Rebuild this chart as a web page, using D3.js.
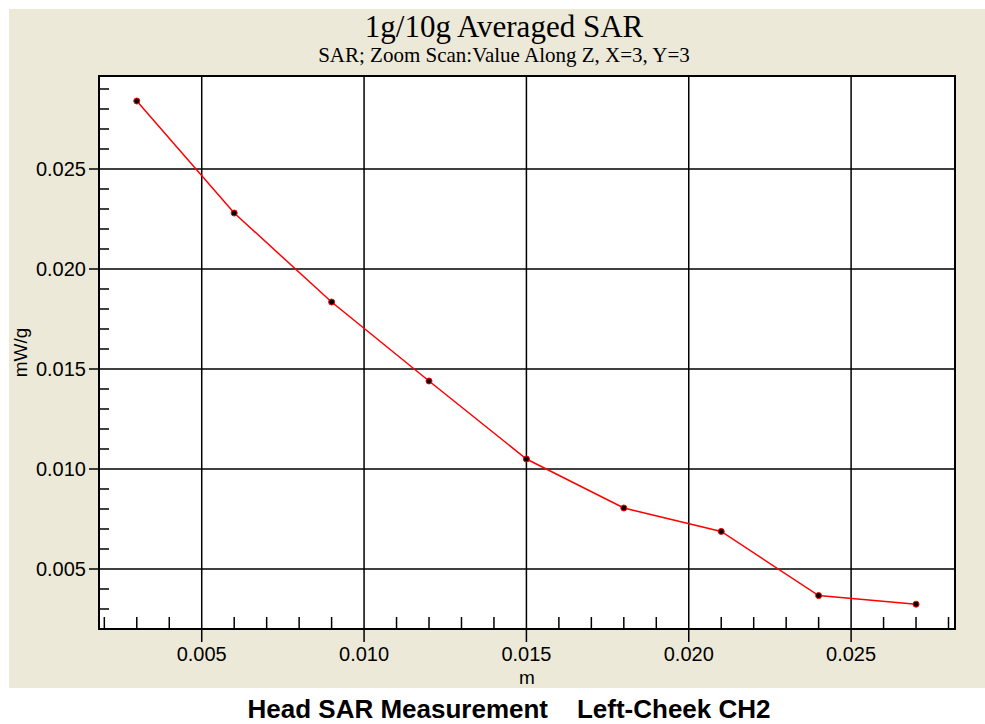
<!DOCTYPE html>
<html><head><meta charset="utf-8">
<script src="https://cdn.jsdelivr.net/npm/d3@7"></script>
<style>body{margin:0;background:#fff;}svg{display:block;}</style>
</head><body>
<svg id="c" width="985" height="724"></svg>
<script>
const xValues = [0.003, 0.006, 0.009, 0.012, 0.015, 0.018, 0.021, 0.024, 0.027];
const sarValues = [0.0284, 0.0228, 0.01835, 0.0144, 0.0105, 0.00805, 0.00688, 0.00367, 0.00324];
const xMajorTicks = [0.005, 0.010, 0.015, 0.020, 0.025];
const yMajorTicks = [0.005, 0.010, 0.015, 0.020, 0.025];
const xMinorTicks = [0.002,0.003,0.004,0.006,0.007,0.008,0.009,0.011,0.012,0.013,0.014,0.016,0.017,0.018,0.019,0.021,0.022,0.023,0.024,0.026,0.027,0.028];
const yMinorTicks = [0.003,0.004,0.006,0.007,0.008,0.009,0.011,0.012,0.013,0.014,0.016,0.017,0.018,0.019,0.021,0.022,0.023,0.024,0.026,0.027,0.028,0.029];
const titleText = "1g/10g Averaged SAR";
const subtitleText = "SAR; Zoom Scan:Value Along Z, X=3, Y=3";
const xLabel = "m", yLabel = "mW/g";
const captionText = "Head SAR Measurement\u00a0\u00a0\u00a0\u00a0Left-Cheek CH2";

const svg = d3.select("#c");
const L = 99, R = 955, T = 76, B = 629;
const x = d3.scaleLinear().domain([0.001836, 0.0282]).range([L, R]);
const y = d3.scaleLinear().domain([0.002, 0.02965]).range([B, T]);
const sans = "Arial, 'Liberation Sans', sans-serif";
const serif = "'Times New Roman', 'Liberation Serif', serif";

svg.append("rect").attr("x", 9).attr("y", 9).attr("width", 976).attr("height", 679).attr("fill", "#ECE9D8");
svg.append("rect").attr("x", L).attr("y", T).attr("width", R - L).attr("height", B - T).attr("fill", "#fff");

// grid
const g = svg.append("g");
g.selectAll(".gx").data(xMajorTicks).join("line")
  .attr("x1", d => x(d)).attr("x2", d => x(d)).attr("y1", T).attr("y2", B + 13)
  .attr("stroke", "#000").attr("stroke-width", 1.5);
g.selectAll(".gy").data(yMajorTicks).join("line")
  .attr("y1", d => y(d)).attr("y2", d => y(d)).attr("x1", L - 10).attr("x2", R)
  .attr("stroke", "#000").attr("stroke-width", 1.5);
// minor ticks inward
g.selectAll(".mx").data(xMinorTicks).join("line")
  .attr("x1", d => x(d)).attr("x2", d => x(d)).attr("y1", B).attr("y2", B - 12)
  .attr("stroke", "#000").attr("stroke-width", 1.5);
g.selectAll(".my").data(yMinorTicks).join("line")
  .attr("y1", d => y(d)).attr("y2", d => y(d)).attr("x1", L).attr("x2", L + 10)
  .attr("stroke", "#000").attr("stroke-width", 1.5);

// frame
svg.append("rect").attr("x", L).attr("y", T).attr("width", R - L).attr("height", B - T)
  .attr("fill", "none").attr("stroke", "#000").attr("stroke-width", 2);

// tick labels
svg.selectAll(".xl").data(xMajorTicks).join("text")
  .attr("x", d => x(d)).attr("y", 661).attr("text-anchor", "middle")
  .attr("font-family", sans).attr("font-size", 20).text(d => d3.format(".3f")(d));
svg.selectAll(".yl").data(yMajorTicks).join("text")
  .attr("x", 86).attr("y", d => y(d)).attr("dy", "0.35em").attr("text-anchor", "end")
  .attr("font-family", sans).attr("font-size", 20).text(d => d3.format(".3f")(d));

// axis titles
svg.append("text").attr("x", (L + R) / 2).attr("y", 684).attr("text-anchor", "middle")
  .attr("font-family", sans).attr("font-size", 19).text(xLabel);
svg.append("text").attr("transform", `translate(27,${(T + B) / 2}) rotate(-90)`).attr("text-anchor", "middle")
  .attr("font-family", sans).attr("font-size", 19).text(yLabel);

// titles
svg.append("text").attr("x", 504).attr("y", 37).attr("text-anchor", "middle")
  .attr("font-family", serif).attr("font-size", 31).text(titleText);
svg.append("text").attr("x", 504).attr("y", 62).attr("text-anchor", "middle")
  .attr("font-family", serif).attr("font-size", 21).text(subtitleText);

// caption
svg.append("text").attr("x", 509).attr("y", 718).attr("text-anchor", "middle")
  .attr("font-family", sans).attr("font-weight", "bold").attr("font-size", 26).text(captionText);

// data
const data = xValues.map((v, i) => [v, sarValues[i]]);
svg.append("path").datum(data)
  .attr("d", d3.line().x(d => x(d[0])).y(d => y(d[1])))
  .attr("fill", "none").attr("stroke", "#f00").attr("stroke-width", 1.5);
svg.selectAll(".pt").data(data).join("circle")
  .attr("cx", d => x(d[0])).attr("cy", d => y(d[1])).attr("r", 3)
  .attr("fill", "#000").attr("stroke", "#f00").attr("stroke-width", 1);
</script>
</body></html>
